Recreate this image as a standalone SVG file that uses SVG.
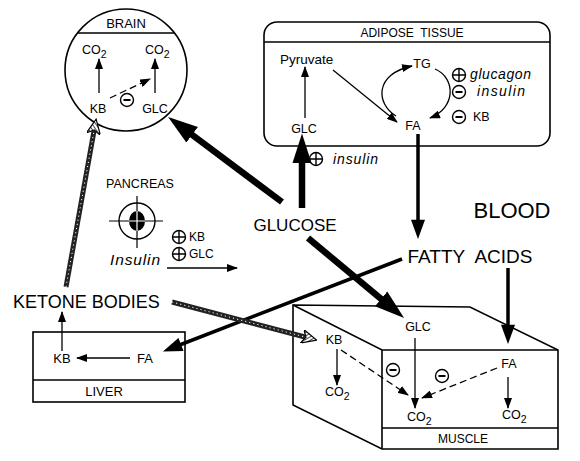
<svg xmlns="http://www.w3.org/2000/svg" width="580" height="461" viewBox="0 0 580 461">
<style>
text{font-family:"Liberation Sans",Arial,sans-serif;fill:#000}
.s{font-size:12.5px}
.it{font-style:italic}
.box{fill:#fff;stroke:#000;stroke-width:1.6}
.thin{stroke:#000;stroke-width:1.3;fill:none}
.dash{stroke:#000;stroke-width:1.3;fill:none;stroke-dasharray:7 4}
.big{stroke:#000;stroke-width:6.5;fill:none}
.med{stroke:#000;stroke-width:3.5;fill:none}
.hd{stroke:#222;stroke-width:5;fill:none}
.hl{stroke:#fff;stroke-width:1;fill:none;stroke-dasharray:1.2 3}
</style>
<defs>
<marker id="mBig" markerUnits="userSpaceOnUse" markerWidth="30" markerHeight="20" viewBox="0 0 28 18" refX="6" refY="9" orient="auto"><path d="M0,0 L28,9 L0,18 z" fill="#000"/></marker>
<marker id="mMed" markerUnits="userSpaceOnUse" markerWidth="20" markerHeight="14" viewBox="0 0 18 13" refX="4" refY="6.5" orient="auto"><path d="M0,0 L18,6.5 L0,13 z" fill="#000"/></marker>
<marker id="mSm" markerUnits="userSpaceOnUse" markerWidth="11" markerHeight="8" viewBox="0 0 11 8" refX="10" refY="4" orient="auto"><path d="M0,0 L11,4 L0,8 z" fill="#000"/></marker>
<pattern id="hatch" width="3" height="3" patternUnits="userSpaceOnUse" patternTransform="rotate(45)"><rect width="3" height="3" fill="#fff"/><line x1="0" y1="0" x2="0" y2="3" stroke="#000" stroke-width="1.4"/></pattern>
<marker id="mHatch" markerUnits="userSpaceOnUse" markerWidth="16" markerHeight="14" viewBox="0 0 16 14" refX="3" refY="7" orient="auto"><path d="M0,0 L15,7 L0,14 L4,7 z" fill="url(#hatch)" stroke="#000" stroke-width="1.2"/></marker>
<g id="plus"><circle r="6.5" fill="#fff" stroke="#000" stroke-width="1.4"/><path d="M-6.5,0 H6.5 M0,-6.5 V6.5" stroke="#000" stroke-width="1.4"/></g>
<g id="minus"><circle r="6.5" fill="#fff" stroke="#000" stroke-width="1.4"/><path d="M-3.5,0 H3.5" stroke="#000" stroke-width="2"/></g>
</defs>
<rect width="580" height="461" fill="#fff"/>

<g id="brain">
<circle cx="126" cy="70" r="61" class="box"/>
<line x1="78" y1="33" x2="174" y2="33" stroke="#000" stroke-width="1.3"/>
<text x="126" y="28" text-anchor="middle" font-size="13">BRAIN</text>
<text x="82" y="54" class="s">CO<tspan font-size="10.5" dy="4">2</tspan></text>
<text x="145" y="54" class="s">CO<tspan font-size="10.5" dy="4">2</tspan></text>
<text x="98" y="113" class="s" text-anchor="middle">KB</text>
<text x="155" y="113" class="s" text-anchor="middle">GLC</text>
<line x1="99" y1="93" x2="99" y2="59" class="thin" marker-end="url(#mSm)"/>
<line x1="155" y1="93" x2="155" y2="59" class="thin" marker-end="url(#mSm)"/>
<line x1="110" y1="98" x2="150" y2="79" class="dash" marker-end="url(#mSm)"/>
<use href="#minus" x="127" y="100"/>
</g>

<g id="adipose">
<rect x="264" y="22" width="286" height="124" rx="13" class="box"/>
<line x1="264" y1="42" x2="550" y2="42" stroke="#000" stroke-width="1.3"/>
<text x="412" y="37" text-anchor="middle" font-size="12" xml:space="preserve">ADIPOSE  TISSUE</text>
<text x="280" y="64" font-size="13.5">Pyruvate</text>
<text x="422" y="68" class="s" text-anchor="middle">TG</text>
<text x="304" y="133" class="s" text-anchor="middle">GLC</text>
<text x="413" y="130" class="s" text-anchor="middle">FA</text>
<line x1="305" y1="118" x2="305" y2="67" class="thin" marker-end="url(#mSm)"/>
<line x1="333" y1="70" x2="397" y2="122" class="thin" marker-end="url(#mSm)"/>
<path d="M396,116 C376,104 374,74 412,66" class="thin" marker-end="url(#mSm)"/>
<path d="M435,69 C456,78 456,108 430,118" class="thin" marker-end="url(#mSm)"/>
<use href="#plus" x="459" y="75"/>
<text x="470" y="79" class="it" font-size="14" textLength="61">glucagon</text>
<use href="#minus" x="459" y="92"/>
<text x="477" y="96" class="it" font-size="14" textLength="48">insulin</text>
<use href="#minus" x="459" y="117"/>
<text x="473" y="121" class="s">KB</text>
</g>

<g id="pancreas">
<text x="140" y="188" font-size="12.5" text-anchor="middle">PANCREAS</text>
<circle cx="137" cy="221" r="18" fill="#fff" stroke="#000" stroke-width="1.4"/>
<ellipse cx="137" cy="221" rx="8" ry="10" fill="#000"/>
<path d="M109,221 H163 M137,196 V248" stroke="#000" stroke-width="1.2"/>
<path d="M129,221 H145 M137,211 V231" stroke="#fff" stroke-width="1.2"/>
<use href="#plus" x="179" y="237"/>
<text x="189" y="241" font-size="12">KB</text>
<use href="#plus" x="179" y="254"/>
<text x="189" y="258" font-size="12">GLC</text>
<text x="110" y="265" class="it" font-size="15.5" textLength="50">Insulin</text>
<line x1="167" y1="268" x2="237" y2="268" class="thin" stroke-width="1.4" marker-end="url(#mSm)"/>
</g>

<g id="blood-labels">
<text x="295" y="231" font-size="17" text-anchor="middle">GLUCOSE</text>
<text x="512" y="218" font-size="22" text-anchor="middle">BLOOD</text>
<text x="470" y="263" font-size="19" text-anchor="middle" xml:space="preserve">FATTY  ACIDS</text>
<text x="13" y="308" font-size="18">KETONE BODIES</text>
<use href="#plus" x="316" y="159"/>
<text x="333" y="164" class="it" font-size="14" textLength="45">insulin</text>
</g>

<g id="liver">
<rect x="33" y="332" width="152" height="70" class="box"/>
<line x1="33" y1="380" x2="185" y2="380" stroke="#000" stroke-width="1.3"/>
<text x="104" y="396" font-size="13" text-anchor="middle">LIVER</text>
<text x="62" y="363" font-size="13" text-anchor="middle">KB</text>
<text x="145" y="363" font-size="13" text-anchor="middle">FA</text>
<line x1="130" y1="358" x2="77" y2="358" class="thin" stroke-width="1.5" marker-end="url(#mSm)"/>
<line x1="62" y1="351" x2="62" y2="312" class="thin" stroke-width="1.5" marker-end="url(#mSm)"/>
</g>

<g id="muscle">
<path d="M293,305 L470,307 L558,350 L558,449 L382,449 L293,405 Z" class="box"/>
<path d="M293,305 L382,350 L558,350 M382,350 L382,449 M382,428 L558,428" stroke="#000" stroke-width="1.6" fill="none"/>
<text x="463" y="443" font-size="12" text-anchor="middle">MUSCLE</text>
<text x="334" y="344" class="s" text-anchor="middle">KB</text>
<text x="418" y="331" class="s" text-anchor="middle">GLC</text>
<text x="509" y="368" class="s" text-anchor="middle">FA</text>
<text x="325" y="396" class="s">CO<tspan font-size="10.5" dy="4">2</tspan></text>
<text x="407" y="421" class="s">CO<tspan font-size="10.5" dy="4">2</tspan></text>
<text x="502" y="419" class="s">CO<tspan font-size="10.5" dy="4">2</tspan></text>
<line x1="337" y1="349" x2="337" y2="385" class="thin" marker-end="url(#mSm)"/>
<line x1="415" y1="338" x2="415" y2="408" class="thin" marker-end="url(#mSm)"/>
<line x1="508" y1="377" x2="508" y2="408" class="thin" marker-end="url(#mSm)"/>
<line x1="341" y1="350" x2="408" y2="395" class="dash" marker-end="url(#mSm)"/>
<line x1="497" y1="368" x2="422" y2="398" class="dash" marker-end="url(#mSm)"/>
<use href="#minus" x="393" y="370"/>
<use href="#minus" x="442" y="376"/>
</g>

<g id="connectors">
<line x1="282" y1="202" x2="187" y2="131" class="big" marker-end="url(#mBig)"/>
<line x1="302" y1="208" x2="302" y2="157" class="big" marker-end="url(#mBig)"/>
<line x1="308" y1="238" x2="386" y2="303" class="big" marker-end="url(#mBig)"/>
<line x1="418" y1="134" x2="418" y2="224" class="med" marker-end="url(#mMed)"/>
<line x1="402" y1="259" x2="177" y2="346" class="med" stroke-width="4" marker-end="url(#mMed)"/>
<line x1="508" y1="268" x2="508" y2="329" class="med" marker-end="url(#mMed)"/>
<line x1="66" y1="287" x2="94" y2="131" class="hd" marker-end="url(#mHatch)"/>
<line x1="66" y1="287" x2="94" y2="131" class="hl"/>
<line x1="172" y1="302" x2="305" y2="337" class="hd" marker-end="url(#mHatch)"/>
<line x1="172" y1="302" x2="305" y2="337" class="hl"/>
</g>
</svg>
